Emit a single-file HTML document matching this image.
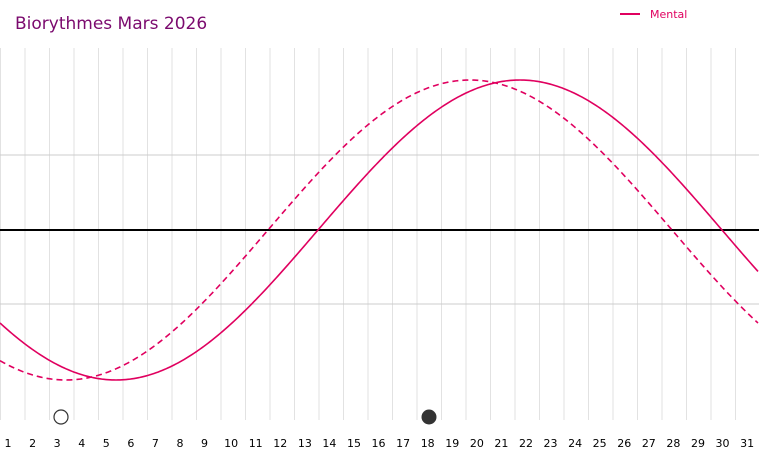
<!DOCTYPE html>
<html><head><meta charset="utf-8"><style>
html,body{margin:0;padding:0;background:#fff;}
svg{display:block;font-family:"DejaVu Sans","Liberation Sans",sans-serif;}
</style></head><body>
<svg id="s" width="759" height="460" viewBox="0 0 759 460" xmlns="http://www.w3.org/2000/svg">
<text x="15" y="29" font-size="17" fill="#7b0a6e">Biorythmes Mars 2026</text>
<line x1="620" y1="14" x2="640" y2="14" stroke="#e0005f" stroke-width="2"/>
<text x="650" y="18" font-size="11" fill="#e0005f">Mental</text>
<g id="grid"></g>
<line x1="0" y1="155" x2="759" y2="155" stroke="#ccc" stroke-width="1"/>
<line x1="0" y1="304" x2="759" y2="304" stroke="#ccc" stroke-width="1"/>
<line x1="0" y1="230" x2="759" y2="230" stroke="#000" stroke-width="2"/>
<path id="p2" fill="none" stroke="#e0005f" stroke-width="1.6" stroke-dasharray="6,4"/>
<path id="p1" fill="none" stroke="#e0005f" stroke-width="1.6"/>
<circle cx="61" cy="417" r="7" fill="#fff" stroke="#333" stroke-width="1.2"/>
<circle cx="429" cy="417" r="7.5" fill="#333"/>
<g id="lab" font-size="11" fill="#000" text-anchor="middle"></g>
</svg>
<script>
var ns="http://www.w3.org/2000/svg",g=document.getElementById('grid'),lab=document.getElementById('lab');
for(var i=0;i<=31;i++){var x=i*24.5+0.5;var l=document.createElementNS(ns,'line');l.setAttribute('x1',x);l.setAttribute('x2',x);l.setAttribute('y1',48);l.setAttribute('y2',420);l.setAttribute('stroke','#e2e2e2');g.appendChild(l);}
for(var d=1;d<=31;d++){var t=document.createElementNS(ns,'text');t.setAttribute('x',8+24.57*(d-1)+(d>=10?2:0));t.setAttribute('y',447);t.textContent=d;lab.appendChild(t);}
function P(s){var p='';for(var x=0;x<=759;x+=2){var y=230-150*Math.sin(2*Math.PI*(x-s)/808);p+=(x?'L':'M')+x+' '+y.toFixed(2);}return p;}
document.getElementById('p1').setAttribute('d',P(318));
document.getElementById('p2').setAttribute('d',P(268));
</script>
</body></html>
